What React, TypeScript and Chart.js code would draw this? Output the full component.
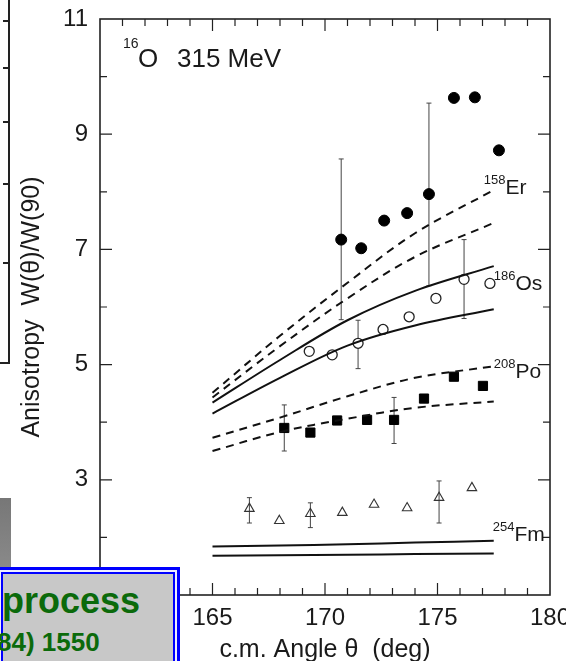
import React, { useEffect, useRef } from 'react';
import { Chart, registerables } from 'chart.js';

Chart.register(...registerables);

// ---- measured data ----
const erAngle = [170.72, 171.61, 172.63, 173.65, 174.62, 175.73, 176.66, 177.73];
const erValue = [7.17, 7.02, 7.5, 7.63, 7.96, 9.63, 9.64, 8.72];
const osAngle = [169.3, 170.32, 171.47, 172.58, 173.74, 174.93, 176.18, 177.33];
const osValue = [5.23, 5.17, 5.37, 5.61, 5.83, 6.15, 6.48, 6.41];
const poAngle = [168.19, 169.35, 170.54, 171.87, 173.07, 174.4, 175.73, 177.02];
const poValue = [3.9, 3.82, 4.03, 4.04, 4.04, 4.41, 4.79, 4.63];
const fmAngle = [166.64, 167.97, 169.35, 170.77, 172.18, 173.65, 175.07, 176.53];
const fmValue = [2.5, 2.29, 2.41, 2.43, 2.57, 2.51, 2.69, 2.86];

const curveAngle = [165, 168, 171, 174, 177.5];
const erCurveHigh = [4.51, 5.5, 6.42, 7.28, 8.03];
const erCurveLow = [4.43, 5.32, 6.15, 6.87, 7.46];
const osCurveHigh = [4.34, 5.08, 5.77, 6.28, 6.71];
const osCurveLow = [4.15, 4.77, 5.33, 5.68, 5.96];
const poCurveHigh = [3.73, 4.08, 4.45, 4.77, 4.97];
const poCurveLow = [3.5, 3.83, 4.06, 4.25, 4.36];
const fmCurveHigh = [1.84, 1.86, 1.88, 1.91, 1.94];
const fmCurveLow = [1.68, 1.69, 1.7, 1.71, 1.72];

const erErrAngle = [170.72, 174.62];
const erErrLow = [5.78, 6.37];
const erErrHigh = [8.57, 9.54];
const osErrAngle = [171.47, 176.18];
const osErrLow = [4.93, 5.8];
const osErrHigh = [5.77, 7.17];
const poErrAngle = [168.19, 173.07];
const poErrLow = [3.5, 3.63];
const poErrHigh = [4.3, 4.43];
const fmErrAngle = [166.64, 169.35, 175.07];
const fmErrLow = [2.25, 2.17, 2.25];
const fmErrHigh = [2.69, 2.6, 2.98];

const xTickLabels = [165, 170, 175, 180];
const yTickLabels = [3, 5, 7, 9, 11];

const isotopeLabels = [
  { sup: '158', sym: 'Er', x: 177.06, y: 7.97 },
  { sup: '186', sym: 'Os', x: 177.5, y: 6.29 },
  { sup: '208', sym: 'Po', x: 177.5, y: 4.76 },
  { sup: '254', sym: 'Fm', x: 177.46, y: 1.94 },
];

const FONT = '"Liberation Sans", Arial, sans-serif';
const INK = '#1a1a1a';

const toXY = (xs: number[], ys: number[]) => xs.map((x, i) => ({ x, y: ys[i] }));

const curve = (xs: number[], ys: number[], dashed: boolean) => ({
  data: toXY(xs, ys),
  showLine: true,
  borderColor: '#111',
  borderWidth: 2,
  borderDash: dashed ? [8, 6] : [],
  pointRadius: 0,
  pointHoverRadius: 0,
  tension: 0.35,
  fill: false,
});

const errorBars = [
  { a: erErrAngle, lo: erErrLow, hi: erErrHigh },
  { a: osErrAngle, lo: osErrLow, hi: osErrHigh },
  { a: poErrAngle, lo: poErrLow, hi: poErrHigh },
  { a: fmErrAngle, lo: fmErrLow, hi: fmErrHigh },
];

const errorPlugin = {
  id: 'errorBars',
  beforeDatasetsDraw(chart: any) {
    const { ctx, scales } = chart;
    const x = scales.x;
    const y = scales.y;
    ctx.save();
    ctx.strokeStyle = '#444';
    ctx.lineWidth = 1;
    errorBars.forEach((eb) => {
      eb.a.forEach((a, i) => {
        const px = x.getPixelForValue(a);
        const p1 = y.getPixelForValue(eb.lo[i]);
        const p2 = y.getPixelForValue(eb.hi[i]);
        ctx.beginPath();
        ctx.moveTo(px, p1);
        ctx.lineTo(px, p2);
        ctx.moveTo(px - 2.5, p1);
        ctx.lineTo(px + 2.5, p1);
        ctx.moveTo(px - 2.5, p2);
        ctx.lineTo(px + 2.5, p2);
        ctx.stroke();
      });
    });
    ctx.restore();
  },
};

const framePlugin = {
  id: 'frame',
  afterDraw(chart: any) {
    const { ctx, chartArea, scales } = chart;
    const { left, right, top, bottom } = chartArea;
    const x = scales.x;
    const y = scales.y;
    ctx.save();
    ctx.strokeStyle = '#222';
    ctx.lineWidth = 1.6;
    ctx.strokeRect(left, top, right - left, bottom - top);
    ctx.lineWidth = 1.2;
    ctx.beginPath();
    for (let v = 161; v <= 179; v++) {
      const px = x.getPixelForValue(v);
      const len = v % 5 === 0 ? 12 : 7;
      ctx.moveTo(px, bottom);
      ctx.lineTo(px, bottom - len);
      ctx.moveTo(px, top);
      ctx.lineTo(px, top + len);
    }
    for (let v = 2; v <= 10; v++) {
      const py = y.getPixelForValue(v);
      const len = v % 2 === 1 ? 12 : 7;
      ctx.moveTo(left, py);
      ctx.lineTo(left + len, py);
      ctx.moveTo(right, py);
      ctx.lineTo(right - len, py);
    }
    ctx.stroke();

    // annotation: 16O 315 MeV
    ctx.fillStyle = INK;
    ctx.textBaseline = 'alphabetic';
    ctx.textAlign = 'left';
    ctx.font = `14px ${FONT}`;
    ctx.fillText('16', left + 23, top + 29);
    ctx.font = `26px ${FONT}`;
    ctx.fillText('O', left + 38, top + 48);
    ctx.fillText('315 MeV', left + 77, top + 48);

    // isotope labels
    isotopeLabels.forEach((l) => {
      const px = x.getPixelForValue(l.x);
      const py = y.getPixelForValue(l.y);
      ctx.font = `13px ${FONT}`;
      ctx.fillText(l.sup, px, py - 10);
      const w = ctx.measureText(l.sup).width;
      ctx.font = `21px ${FONT}`;
      ctx.fillText(l.sym, px + w, py);
    });

    // partial frame of neighbouring figure (left edge)
    ctx.strokeStyle = '#222';
    ctx.lineWidth = 2;
    ctx.beginPath();
    ctx.moveTo(9, 0);
    ctx.lineTo(9, 363);
    ctx.lineTo(0, 363);
    [21, 68, 122, 184, 263].forEach((t) => {
      ctx.moveTo(9, t);
      ctx.lineTo(3, t);
    });
    ctx.stroke();
    ctx.restore();
  },
};

export default function App() {
  const canvasRef = useRef<HTMLCanvasElement | null>(null);

  useEffect(() => {
    if (!canvasRef.current) return;
    const chart = new Chart(canvasRef.current, {
      type: 'scatter',
      data: {
        datasets: [
          curve(curveAngle, erCurveHigh, true),
          curve(curveAngle, erCurveLow, true),
          curve(curveAngle, osCurveHigh, false),
          curve(curveAngle, osCurveLow, false),
          curve(curveAngle, poCurveHigh, true),
          curve(curveAngle, poCurveLow, true),
          curve(curveAngle, fmCurveHigh, false),
          curve(curveAngle, fmCurveLow, false),
          {
            data: toXY(erAngle, erValue),
            pointStyle: 'circle',
            pointRadius: 5.5,
            backgroundColor: '#000',
            borderColor: '#000',
            borderWidth: 1,
          },
          {
            data: toXY(osAngle, osValue),
            pointStyle: 'circle',
            pointRadius: 5,
            backgroundColor: '#fff',
            borderColor: '#222',
            borderWidth: 1.3,
          },
          {
            data: toXY(poAngle, poValue),
            pointStyle: 'rect',
            pointRadius: 6.5,
            backgroundColor: '#000',
            borderColor: '#000',
            borderWidth: 1,
          },
          {
            data: toXY(fmAngle, fmValue),
            pointStyle: 'triangle',
            pointRadius: 5.5,
            backgroundColor: 'rgba(255,255,255,0)',
            borderColor: '#333',
            borderWidth: 1.1,
          },
        ] as any,
      },
      options: {
        responsive: false,
        animation: false,
        events: [],
        layout: { padding: { left: 0, right: 16, top: 19, bottom: 0 } },
        plugins: { legend: { display: false }, tooltip: { enabled: false } },
        scales: {
          x: {
            type: 'linear',
            min: 160,
            max: 180,
            grid: { display: false, drawTicks: false },
            border: { display: false },
            ticks: {
              stepSize: 5,
              autoSkip: false,
              maxRotation: 0,
              padding: 9,
              color: INK,
              font: { family: FONT, size: 24 },
              callback: (v: any) => (xTickLabels.includes(Number(v)) ? String(v) : ''),
            },
            title: {
              display: true,
              text: 'c.m. Angle θ  (deg)',
              color: INK,
              font: { family: FONT, size: 25 },
              padding: { top: 0, bottom: -4 },
            },
            afterFit: (s: any) => {
              s.height = 66;
              s.paddingLeft = 0;
              s.paddingRight = 0;
            },
          },
          y: {
            type: 'linear',
            min: 1,
            max: 11,
            grid: { display: false, drawTicks: false },
            border: { display: false },
            ticks: {
              stepSize: 1,
              autoSkip: false,
              padding: 12,
              color: INK,
              font: { family: FONT, size: 24 },
              callback: (v: any) => (yTickLabels.includes(Number(v)) ? String(v) : ''),
            },
            title: {
              display: true,
              text: 'Anisotropy  W(θ)/W(90)',
              color: INK,
              font: { family: FONT, size: 25 },
              padding: { top: 17, bottom: 0 },
            },
            afterFit: (s: any) => {
              s.width = 100;
              s.paddingTop = 0;
              s.paddingBottom = 0;
            },
          },
        },
      } as any,
      plugins: [errorPlugin, framePlugin],
    });
    return () => chart.destroy();
  }, []);

  return (
    <div style={{ position: 'absolute', left: 0, top: 0, width: 566, height: 661, overflow: 'hidden', background: '#fff' }}>
      <canvas ref={canvasRef} width={566} height={661} style={{ display: 'block' }} />
      <div style={{ position: 'absolute', left: 0, top: 498, width: 11, height: 72, background: 'linear-gradient(#777, #8a8a8a)' }} />
      <div
        style={{
          position: 'absolute',
          left: -4,
          top: 567,
          width: 184,
          height: 110,
          boxSizing: 'border-box',
          border: '3px solid #0000ff',
          background: '#eef',
          padding: 2,
        }}
      >
        <div style={{ width: '100%', height: '100%', boxSizing: 'border-box', border: '2px solid #0000ff', background: '#c8c8c8' }} />
      </div>
      <div
        style={{
          position: 'absolute',
          left: 2,
          top: 583,
          fontFamily: FONT,
          fontWeight: 'bold',
          fontSize: 36,
          lineHeight: '36px',
          color: '#0b6a0b',
          whiteSpace: 'nowrap',
        }}
      >
        process
      </div>
      <div
        style={{
          position: 'absolute',
          left: -3,
          top: 629,
          fontFamily: FONT,
          fontWeight: 'bold',
          fontSize: 26,
          lineHeight: '26px',
          color: '#0b6a0b',
          whiteSpace: 'nowrap',
        }}
      >
        84) 1550
      </div>
    </div>
  );
}
